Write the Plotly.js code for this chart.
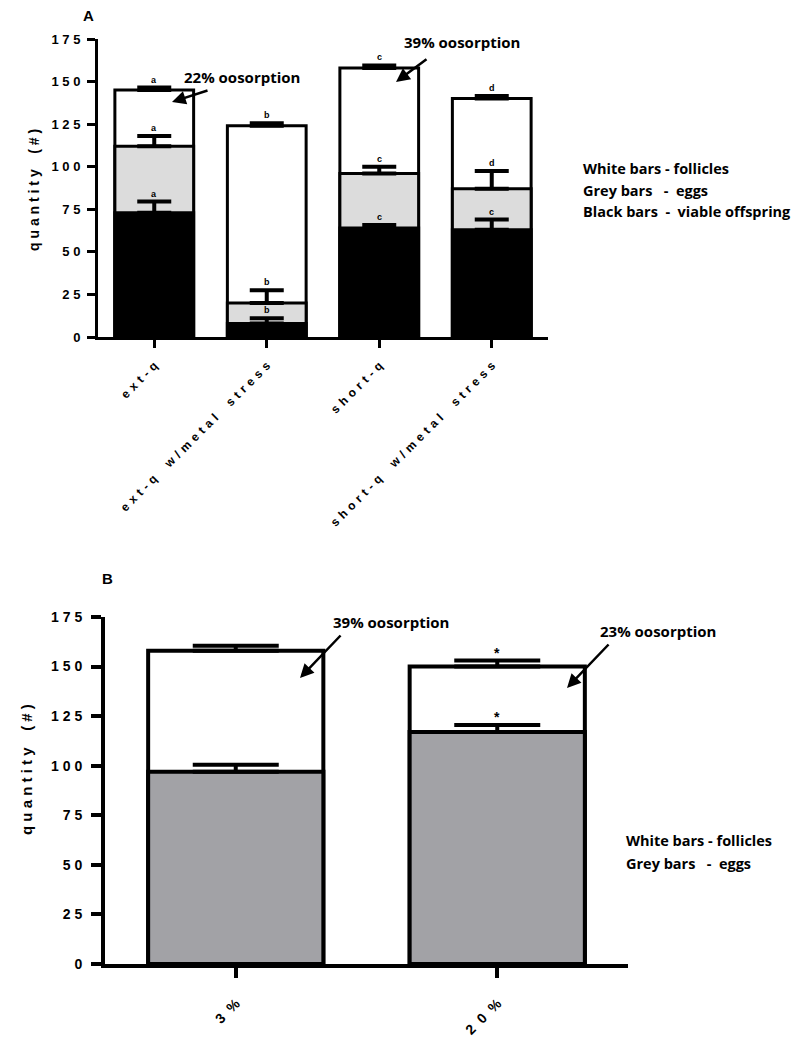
<!DOCTYPE html>
<html>
<head>
<meta charset="utf-8">
<script src="https://cdn.plot.ly/plotly-3.0.1.min.js"></script>
<style>html,body{margin:0;padding:0;background:#fff;}#chart{width:800px;height:1037px;}</style>
</head>
<body>
<div id="chart"></div>
<script>
// ---------- Panel A data ----------
const groupsA = ['ext-q', 'ext-q w/metal stress', 'short-q', 'short-q w/metal stress'];
const folliclesA = [145, 124, 158, 140];
const folliclesErrA = [1.5, 1.5, 1.5, 1.5];
const eggsA = [112, 20, 96, 87];
const eggsErrA = [6, 7.5, 4, 10.5];
const offspringA = [73, 8, 64, 63];
const offspringErrA = [6.5, 3, 1.8, 6];
const follLettersA = ['a', 'b', 'c', 'd'];
const eggLettersA = ['a', 'b', 'c', 'd'];
const offLettersA = ['a', 'b', 'c', 'c'];

// ---------- Panel B data ----------
const groupsB = ['3%', '20%'];
const folliclesB = [158, 150];
const folliclesErrB = [2.5, 3];
const eggsB = [97, 117];
const eggsErrB = [3.5, 3.5];
const follMarksB = ['', '*'];
const eggMarksB = ['', '*'];

const yTicks = [0, 25, 50, 75, 100, 125, 150, 175];

const NB = '\u00a0', HS = '\u200a';
const spacedG = (s, g, w) => s.split('').map(c => c === ' ' ? w : c).join(g);
const spaced = s => spacedG(s, NB, NB + NB);
const zeros = n => new Array(n).fill(0);
const idx = n => Array.from({length: n}, (_, i) => i);

const FONT = 'Liberation Sans, Arial, sans-serif';
const CAL = 'Open Sans, Noto Sans, sans-serif';

function barTrace(xs, ys, errs, color, width, lw, xa, ya, name, capw, th) {
  return {
    type: 'bar', x: xs, y: ys, width: width, name: name,
    xaxis: xa, yaxis: ya,
    marker: {color: color, line: {color: '#000', width: lw}},
    error_y: {type: 'data', symmetric: false, array: errs, arrayminus: zeros(ys.length),
              color: '#000', thickness: th, width: capw},
    hoverinfo: 'skip'
  };
}

const xA = idx(groupsA.length);
const xB = idx(groupsB.length);

const traces = [
  barTrace(xA, folliclesA, folliclesErrA, '#ffffff', 0.7, 3, 'x', 'y', 'follicles', 17, 4),
  barTrace(xA, eggsA, eggsErrA, '#dcdcdc', 0.7, 3, 'x', 'y', 'eggs', 17, 4),
  barTrace(xA, offspringA, offspringErrA, '#000000', 0.7, 3, 'x', 'y', 'viable offspring', 17, 4),
  barTrace(xB, folliclesB, folliclesErrB, '#ffffff', 0.67, 4, 'x2', 'y2', 'follicles', 43, 4),
  barTrace(xB, eggsB, eggsErrB, '#a2a2a6', 0.67, 4, 'x2', 'y2', 'eggs', 43, 4)
];

const annotations = [];
function letters(xs, vals, errs, labs, xa, ya, size, shift) {
  xs.forEach((x, i) => {
    if (!labs[i]) return;
    annotations.push({xref: xa, yref: ya, x: x, y: vals[i] + errs[i], text: labs[i],
      showarrow: false, yanchor: 'bottom', yshift: shift,
      font: {family: FONT, size: size, color: '#000', weight: 'bold'}});
  });
}
letters(xA, folliclesA, folliclesErrA, follLettersA, 'x', 'y', 9, 1);
letters(xA, eggsA, eggsErrA, eggLettersA, 'x', 'y', 9, 1);
letters(xA, offspringA, offspringErrA, offLettersA, 'x', 'y', 9, 1);
letters(xB, folliclesB, folliclesErrB, follMarksB, 'x2', 'y2', 14, -2);
letters(xB, eggsB, eggsErrB, eggMarksB, 'x2', 'y2', 14, -2);

const H = 1037, W = 800;
const px = x => x / W, py = y => 1 - y / H;
function txt(x, y, t, size, fam, anchor) {
  annotations.push({xref: 'paper', yref: 'paper', x: px(x), y: py(y), text: t, showarrow: false,
    xanchor: anchor || 'center', yanchor: 'middle',
    font: {family: fam || CAL, size: size, color: '#000', weight: 'bold'}});
}
function arrow(x1, y1, x2, y2) {
  annotations.push({xref: 'paper', yref: 'paper', x: px(x2), y: py(y2), ax: x1 - x2, ay: y1 - y2,
    text: '', showarrow: true, arrowhead: 2, arrowsize: 1.1, arrowwidth: 2.5, arrowcolor: '#000'});
}

// Panel A
txt(88, 15, 'A', 15, FONT);
txt(242, 77, '22% oosorption', 15);
arrow(209, 90, 172, 102);
txt(462, 42, '39% oosorption', 15);
arrow(428, 58, 396, 82);
txt(581, 168, 'White bars - follicles', 14.5, CAL, 'left');
txt(581, 190, 'Grey bars \u00a0 - \u00a0eggs', 14.5, CAL, 'left');
txt(581, 212, 'Black bars \u00a0- \u00a0viable offspring', 14.5, CAL, 'left');
annotations.push({xref: 'paper', yref: 'paper', x: px(34), y: py(190), textangle: -90,
  text: spaced('quantity (#)'), showarrow: false, xanchor: 'center', yanchor: 'middle',
  font: {family: FONT, size: 14, color: '#000', weight: 'bold'}});

// Panel B
txt(107, 578, 'B', 15, FONT);
txt(391, 622, '39% oosorption', 15);
arrow(342, 634, 300, 678);
txt(658, 631, '23% oosorption', 15);
arrow(610, 643, 567, 688);
txt(624, 840, 'White bars - follicles', 14.5, CAL, 'left');
txt(624, 863, 'Grey bars \u00a0 - \u00a0eggs', 14.5, CAL, 'left');
annotations.push({xref: 'paper', yref: 'paper', x: px(26), y: py(770), textangle: -90,
  text: spaced('quantity (#)'), showarrow: false, xanchor: 'center', yanchor: 'middle',
  font: {family: FONT, size: 15, color: '#000', weight: 'bold'}});

function xAxis(domain, n, labels, anchor, lw, fs, gap, wgap, standoff, tlen) {
  return {domain: domain, range: [-0.5, n - 0.5], tickvals: idx(n),
    ticktext: labels.map(s => spacedG(s, gap, wgap)),
    tickangle: -45, showline: true, linewidth: lw, linecolor: '#000', ticks: 'outside',
    ticklen: tlen, tickwidth: lw, tickcolor: '#000', showgrid: false, zeroline: false,
    ticklabelstandoff: standoff,
    anchor: anchor, tickfont: {family: FONT, size: fs, color: '#000', weight: 'bold'}, fixedrange: true};
}
function yAxis(domain, anchor, lw, fs, standoff, tlen) {
  return {domain: domain, range: [0, 175], tickvals: yTicks, ticktext: yTicks.map(v => spaced(String(v))),
    showline: true, linewidth: lw, linecolor: '#000', ticks: 'outside', ticklen: tlen, tickwidth: lw,
    tickcolor: '#000', showgrid: false, zeroline: false, anchor: anchor, ticklabelstandoff: standoff,
    tickfont: {family: FONT, size: fs, color: '#000', weight: 'bold'}, fixedrange: true};
}

const layout = {
  width: W, height: H, margin: {l: 0, r: 0, t: 0, b: 0},
  paper_bgcolor: '#fff', plot_bgcolor: 'rgba(0,0,0,0)',
  showlegend: false, barmode: 'overlay',
  xaxis: xAxis([98 / W, 548 / W], groupsA.length, groupsA, 'y', 3, 12, NB + HS, NB + NB + HS, 6, 8),
  yaxis: yAxis([1 - 337 / H, 1 - 39 / H], 'x', 3, 13, 4, 8),
  xaxis2: xAxis([105 / W, 628 / W], groupsB.length, groupsB, 'y2', 4, 14, NB + NB, NB, 12, 10),
  yaxis2: yAxis([1 - 964 / H, 1 - 617 / H], 'x2', 4, 14, 6, 10),
  annotations: annotations
};

Plotly.newPlot('chart', traces, layout, {staticPlot: true, displayModeBar: false});
</script>
</body>
</html>
